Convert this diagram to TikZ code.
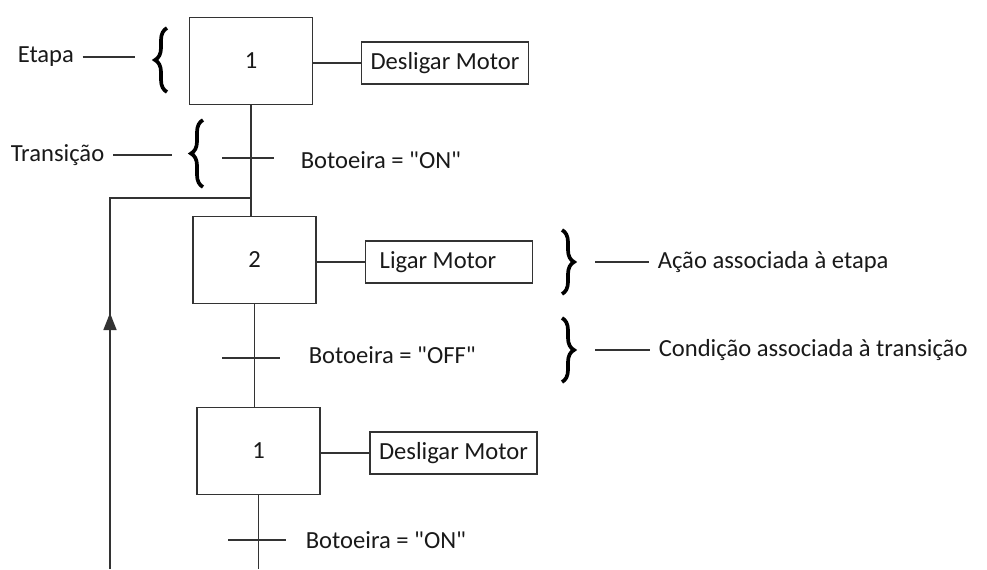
\documentclass[tikz,border=0pt]{standalone}
\usepackage{fontspec}
\setmainfont{Carlito}
\usetikzlibrary{decorations.pathreplacing,decorations.markings,arrows.meta}

\tikzset{
  etapa/.style={draw=black!80, minimum width=2.46cm, minimum height=1.74cm, inner sep=0pt},
  acao/.style={draw=black!80, minimum width=3.34cm, minimum height=0.84cm, inner sep=0pt},
  rotulo/.style={inner sep=0.16cm},
  chave/.style={decorate, decoration={brace, amplitude=0.24cm}, line width=2.1pt, draw=black},
}

\begin{document}
\begin{tikzpicture}[x=0.02cm, y=-0.02cm, line width=0.9pt, draw=black!80,
  font=\fontsize{14}{16}\selectfont, text=black!90]
\useasboundingbox (0,0) rectangle (987,569);

\node[etapa] (e1) at (251,61) {1};
\node[acao] (a1) at (445,63) {Desligar Motor};
\node[etapa] (e2) at (254.5,260) {2};
\node[acao] (a2) at (449,262) {Ligar Motor\kern0.44cm};
\node[etapa] (e3) at (258.5,451) {1};
\node[acao] (a3) at (453.5,453) {Desligar Motor};

\coordinate (t1) at (249,158);
\coordinate (t2) at (251,358);
\coordinate (t3) at (257,540);
\node[anchor=west, inner sep=0pt] (c1) at (300,160) {Botoeira = \textquotedbl ON\textquotedbl};
\node[anchor=west, inner sep=0pt] (c2) at (308,355) {Botoeira = \textquotedbl OFF\textquotedbl};
\node[anchor=west, inner sep=0pt] (c3) at (305,540) {Botoeira = \textquotedbl ON\textquotedbl};

\coordinate (j) at (251,198);
\coordinate (ret) at (110,569);
\coordinate (fim) at (e3.south |- 0,569);

\draw (a1.west -| e1.east) -- (a1.west);
\draw (a2.west -| e2.east) -- (a2.west);
\draw (a3.west -| e3.east) -- (a3.west);

\draw (e1.south) -- (e1.south |- e2.north);
\draw (e2.south) -- (e2.south |- e3.north);
\draw (e3.south) -- (fim);

\draw ([xshift=-0.54cm]t1) -- ([xshift=0.5cm]t1);
\draw ([xshift=-0.58cm]t2) -- ([xshift=0.58cm]t2);
\draw ([xshift=-0.58cm]t3) -- ([xshift=0.58cm]t3);

\draw[postaction={decorate}, decoration={markings,
  mark=at position 0.5 with {\arrow{Triangle[length=0.34cm,width=0.26cm]}}}]
  (ret) |- (j);

% chaves e legendas
\node[rotulo, anchor=west] (l1) at (9,57) {Etapa};
\node[rotulo, anchor=west] (l2) at (2,155) {Transição};
\node[rotulo, anchor=west] (l3) at (649,262) {Ação associada à etapa};
\node[rotulo, anchor=west] (l4) at (650,350) {Condição associada à transição};

\draw[chave] (167,92) -- (167,28);
\draw[chave] (203,187) -- (203,120);
\draw[chave] (562,230) -- (562,294);
\draw[chave] (562,318) -- (562,382);

\coordinate (k1) at (153,57);
\coordinate (k2) at (190,155);
\coordinate (k3) at (577,262);
\coordinate (k4) at (577,350);

\draw[shorten >=0.36cm] (l1.east) -- (k1);
\draw[shorten >=0.36cm] (l2.east) -- (k2);
\draw[shorten <=0.36cm] (k3) -- (l3.west);
\draw[shorten <=0.36cm] (k4) -- (l4.west);
\end{tikzpicture}
\end{document}
